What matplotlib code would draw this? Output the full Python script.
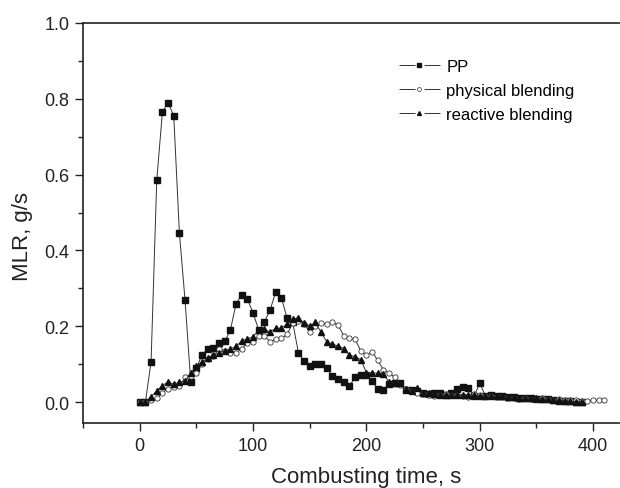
import numpy as np
import matplotlib
matplotlib.use("Agg")
import matplotlib.pyplot as plt
from matplotlib.lines import Line2D
from matplotlib.ticker import MultipleLocator, FormatStrFormatter

plt.rcParams['font.family'] = ['Liberation Sans', 'DejaVu Sans']

# час горіння, с
time_pp = np.arange(0, 395, 5)
time_phys = np.arange(0, 415, 5)
time_react = np.arange(0, 395, 5)

mlr_pp = [0, 0, 0.107, 0.585, 0.765, 0.79, 0.755, 0.445, 0.268, 0.052,
          0.09, 0.125, 0.14, 0.142, 0.155, 0.16, 0.19, 0.26, 0.283, 0.272,
          0.235, 0.19, 0.212, 0.243, 0.29, 0.275, 0.222, 0.21, 0.13, 0.108,
          0.096, 0.1, 0.1, 0.09, 0.069, 0.062, 0.054, 0.043, 0.065, 0.071,
          0.071, 0.056, 0.034, 0.033, 0.047, 0.05, 0.05, 0.032, 0.032, 0.029,
          0.023, 0.021, 0.025, 0.024, 0.018, 0.025, 0.034, 0.039, 0.036, 0.016,
          0.05, 0.016, 0.018, 0.016, 0.015, 0.014, 0.013, 0.012, 0.011, 0.01,
          0.009, 0.008, 0.007, 0.005, 0.004, 0.003, 0.002, 0.001, 0.001]

mlr_phys = [0, 0, 0.005, 0.01, 0.025, 0.035, 0.04, 0.043, 0.065, 0.07,
            0.078, 0.1, 0.113, 0.122, 0.14, 0.135, 0.13, 0.129, 0.141, 0.156,
            0.159, 0.175, 0.175, 0.159, 0.166, 0.168, 0.179, 0.208, 0.215, 0.206,
            0.185, 0.201, 0.208, 0.206, 0.212, 0.203, 0.175, 0.168, 0.166, 0.135,
            0.124, 0.133, 0.11, 0.085, 0.077, 0.065, 0.045, 0.035, 0.03, 0.025,
            0.022, 0.02, 0.015, 0.02, 0.022, 0.02, 0.018, 0.015, 0.014, 0.022,
            0.02, 0.015, 0.016, 0.014, 0.013, 0.012, 0.01, 0.008, 0.01, 0.009,
            0.008, 0.01, 0.007, 0.006, 0.009, 0.006, 0.005, 0.005, 0.004, 0.004,
            0.005, 0.005, 0.006]

mlr_react = [0, 0, 0.014, 0.03, 0.043, 0.054, 0.047, 0.052, 0.056, 0.076,
             0.096, 0.106, 0.116, 0.124, 0.13, 0.135, 0.14, 0.147, 0.162, 0.166,
             0.173, 0.19, 0.192, 0.185, 0.195, 0.195, 0.206, 0.219, 0.223, 0.208,
             0.201, 0.21, 0.184, 0.159, 0.153, 0.148, 0.141, 0.124, 0.12, 0.112,
             0.078, 0.077, 0.076, 0.075, 0.052, 0.05, 0.05, 0.034, 0.029, 0.037,
             0.025, 0.023, 0.022, 0.02, 0.02, 0.019, 0.019, 0.02, 0.019, 0.018,
             0.017, 0.016, 0.016, 0.015, 0.015, 0.014, 0.013, 0.012, 0.012, 0.011,
             0.01, 0.009, 0.008, 0.006, 0.005, 0.004, 0.002, 0.001, 0.001]

labels = ['PP', 'physical blending', 'reactive blending']

fig = plt.figure(figsize=(6.2, 4.89), dpi=100)
# права межа осей виходить за край рисунка, як в оригіналі
ax = fig.add_axes([0.134, 0.133, 0.914, 0.818])

line_kw = dict(color='#333333', linewidth=0.7, markersize=3.8)
ax.plot(time_pp, mlr_pp, marker='s', markerfacecolor='#111111',
        markeredgecolor='#111111', **line_kw)
ax.plot(time_phys, mlr_phys, marker='o', markerfacecolor='white',
        markeredgecolor='#333333', markeredgewidth=0.6, **line_kw)
ax.plot(time_react, mlr_react, marker='^', markerfacecolor='#111111',
        markeredgecolor='#111111', **line_kw)

ax.set_xlim(-50, 450)
ax.set_ylim(-0.055, 1.0)
ax.xaxis.set_major_locator(MultipleLocator(100))
ax.xaxis.set_minor_locator(MultipleLocator(50))
ax.yaxis.set_major_locator(MultipleLocator(0.2))
ax.yaxis.set_minor_locator(MultipleLocator(0.1))
ax.yaxis.set_major_formatter(FormatStrFormatter('%.1f'))
ax.tick_params(which='major', direction='out', length=6, width=1, labelsize=13,
               colors='#222222', pad=4)
ax.tick_params(which='minor', direction='out', length=3.5, width=1, colors='#222222')
for s in ax.spines.values():
    s.set_linewidth(1.2)
    s.set_color('#222222')

ax.set_xlabel('Combusting time, s', fontsize=16, color='#222222', labelpad=9)
ax.set_ylabel('MLR, g/s', fontsize=16, color='#222222', labelpad=8)
ax.yaxis.label.set_y(0.468)

# лінія в легенді з розривом навколо маркера: "— ▪ —"
gap_style = (0, (16.5, 9.3, 40, 1))
handles = [
    Line2D([], [], color='#333333', linewidth=0.7, linestyle=gap_style, marker='s',
           markersize=2.6, markerfacecolor='#111111', markeredgecolor='#111111'),
    Line2D([], [], color='#333333', linewidth=0.7, linestyle=gap_style, marker='o',
           markersize=2.8, markerfacecolor='white', markeredgecolor='#333333',
           markeredgewidth=0.5),
    Line2D([], [], color='#333333', linewidth=0.7, linestyle=gap_style, marker='^',
           markersize=2.8, markerfacecolor='#111111', markeredgecolor='#111111'),
]
ax.legend(handles, labels, loc='upper left', bbox_to_anchor=(0.557, 0.91), frameon=False,
          fontsize=12, handlelength=2.45, handletextpad=0.4, labelspacing=0.55,
          borderpad=0, borderaxespad=0)

fig.savefig('out.png', dpi=100)
